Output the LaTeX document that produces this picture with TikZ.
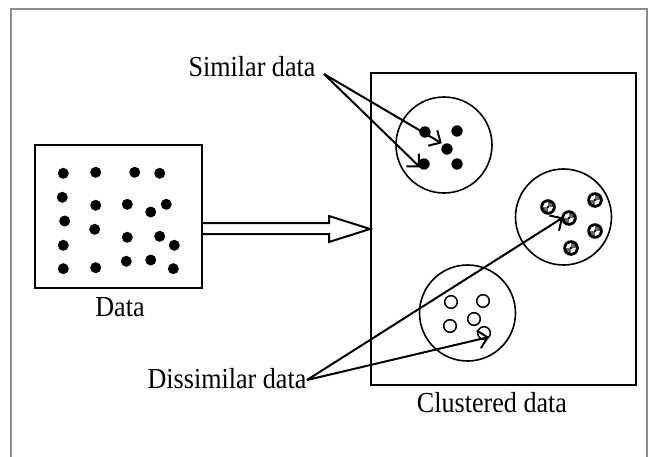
\documentclass[tikz,border=0pt]{standalone}
\usepackage{fontspec}
\setmainfont{Liberation Serif}
\usetikzlibrary{arrows.meta,calc}
\begin{document}
\begin{tikzpicture}[x=1pt,y=-1pt,
  lbl/.style={font=\fontsize{29}{33}\selectfont, inner sep=0pt, xscale=0.9},
  frame/.style={draw=black, line width=2pt},
  clus/.style={draw=black, line width=1.6pt},
  bdot/.style={fill=black},
  odot/.style={draw=black, line width=1.5pt, fill=white},
  ptr/.style={draw=black, line width=2pt, -{Straight Barb[length=9pt,width=18pt,line width=2pt]}},
  outline/.style={draw=black!45, line width=2.4pt}
]
\useasboundingbox (0,0) rectangle (650,457);
\fill[white] (0,0) rectangle (650,457);
\draw[outline] (11,457) -- (11,9) -- (647,9) -- (647,457);

% Data box
\node[frame, minimum width=167pt, minimum height=143pt, inner sep=0pt] (data) at (118.5,216.5) {};
\node[lbl] (datalbl) at (120,307) {Data};
\foreach \x/\y in {63.3/173.3, 95.7/172.3, 134.7/172.3, 159.7/173.3,
  62.3/197.3, 95.7/205.3, 127.3/204.3, 150.7/212, 166.3/204.3,
  64.7/221, 94.7/229.3, 127.3/237.3, 159.7/236.3, 174.3/245.3,
  63.3/245.3,
  63.3/268.7, 95.7/267.7, 126.3/261.3, 150.7/260, 173.3/268.7}
  \fill[bdot] (\x,\y) circle[radius=5.5pt];

% Clustered box
\node[frame, minimum width=265pt, minimum height=312pt, inner sep=0pt] (clu) at (503.5,229) {};
\node[lbl] (clulbl) at (492,403) {Clustered data};

% big hollow arrow
\coordinate (tip) at (clu.west |- 0,229);
\draw[line width=2pt, fill=white, line join=miter]
  (data.east |- 0,223) -- (329,223) -- (329,216) -- (tip) -- (329,242) -- (329,234) -- (data.east |- 0,234);

% clusters
\node[clus, circle, minimum size=96pt, inner sep=0pt] (c1) at (444,145) {};
\node[clus, circle, minimum size=96pt, inner sep=0pt] (c2) at (563.5,217) {};
\node[clus, circle, minimum size=96pt, inner sep=0pt] (c3) at (467.5,313) {};

% cluster 1: black dots
\coordinate (a1) at (425,132);
\coordinate (a2) at (457,131);
\coordinate (a3) at (447,149);
\coordinate (a4) at (424,164);
\coordinate (a5) at (457,164);
\foreach \p in {a1,a2,a3,a4,a5} \fill[bdot] (\p) circle[radius=5.7pt];

% cluster 2: checkered dots
\coordinate (b1) at (548,207);
\coordinate (b2) at (569,218);
\coordinate (b3) at (595,200);
\coordinate (b4) at (595,231);
\coordinate (b5) at (571,248);
\foreach \p in {b1,b2,b3,b4,b5} {
  \fill[black] (\p) circle[radius=7.8pt];
  \begin{scope}
    \clip (\p) circle[radius=5pt];
    \fill[black!60] ($(\p)+(-6,-6)$) rectangle ($(\p)+(6,6)$);
    \fill[white] ($(\p)+(-6,-6)$) rectangle (\p);
    \fill[white] (\p) rectangle ($(\p)+(6,6)$);
    \fill[black] (\p) circle[radius=1.4pt];
  \end{scope}
}

% cluster 3: open dots
\coordinate (d1) at (451,302);
\coordinate (d2) at (483,301);
\coordinate (d3) at (474,319);
\coordinate (d4) at (450,326);
\coordinate (d5) at (484,333);
\foreach \p in {d1,d2,d3,d4,d5} \draw[odot] (\p) circle[radius=6.3pt];

% labels and pointers
\node[lbl] (sim) at (252,67) {Similar data};
\node[lbl] (dis) at (227,379) {Dissimilar data};
\coordinate (simtail) at (324,74);
\coordinate (distail) at (307,380);
\draw[ptr] (simtail) -- (441.7,143.3);
\draw[ptr] (simtail) -- (420,167.3);
\draw[ptr] (distail) -- (563,217.5);
\draw[ptr] (distail) -- (489,337);
\end{tikzpicture}
\end{document}
